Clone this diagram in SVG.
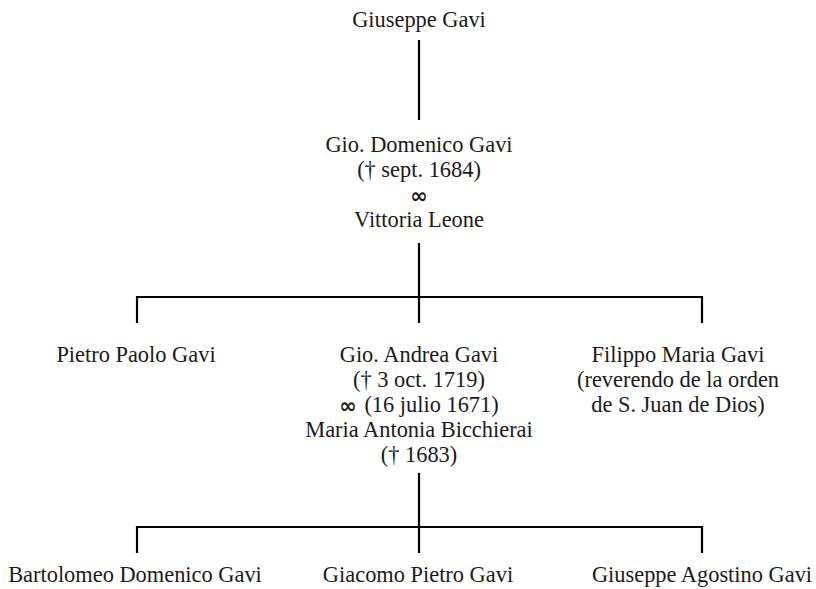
<svg xmlns="http://www.w3.org/2000/svg" width="816" height="589" viewBox="0 0 816 589">
<style>
text{font-family:"Liberation Serif","Times New Roman",serif;font-size:22.4px;fill:#1a1a1a;text-anchor:middle}
.inf{font-family:"DejaVu Sans","Liberation Sans",sans-serif;font-size:21px;font-weight:bold}
.c{stroke:#000;stroke-width:2.2;fill:none}
</style>
<rect width="816" height="589" fill="#fff"/>
<g id="connectors">
<line class="c" x1="419" y1="40" x2="419" y2="120"/>
<line class="c" x1="419" y1="243" x2="419" y2="323"/>
<polyline class="c" points="137,323 137,297 702,297 702,323"/>
<line class="c" x1="419" y1="473" x2="419" y2="553"/>
<polyline class="c" points="137,553 137,527 702,527 702,553"/>
</g>
<g id="giuseppe"><text x="419" y="27">Giuseppe Gavi</text></g>
<g id="gio-domenico">
<text x="419" y="152">Gio. Domenico Gavi</text>
<text x="419" y="177">(† sept. 1684)</text>
<text x="419" y="203" class="inf">∞</text>
<text x="419" y="227">Vittoria Leone</text>
</g>
<g id="pietro-paolo"><text x="136" y="362">Pietro Paolo Gavi</text></g>
<g id="gio-andrea">
<text x="419" y="362">Gio. Andrea Gavi</text>
<text x="419" y="387">(† 3 oct. 1719)</text>
<text x="419" y="412"><tspan class="inf" dy="1">∞</tspan> <tspan dx="2" dy="-1">(16 julio 1671)</tspan></text>
<text x="419" y="437">Maria Antonia Bicchierai</text>
<text x="419" y="462">(† 1683)</text>
</g>
<g id="filippo">
<text x="678" y="362">Filippo Maria Gavi</text>
<text x="678" y="387">(reverendo de la orden</text>
<text x="678" y="412">de S. Juan de Dios)</text>
</g>
<g id="bartolomeo"><text x="135" y="582">Bartolomeo Domenico Gavi</text></g>
<g id="giacomo"><text x="418" y="582">Giacomo Pietro Gavi</text></g>
<g id="giuseppe-agostino"><text x="702" y="582">Giuseppe Agostino Gavi</text></g>
</svg>
